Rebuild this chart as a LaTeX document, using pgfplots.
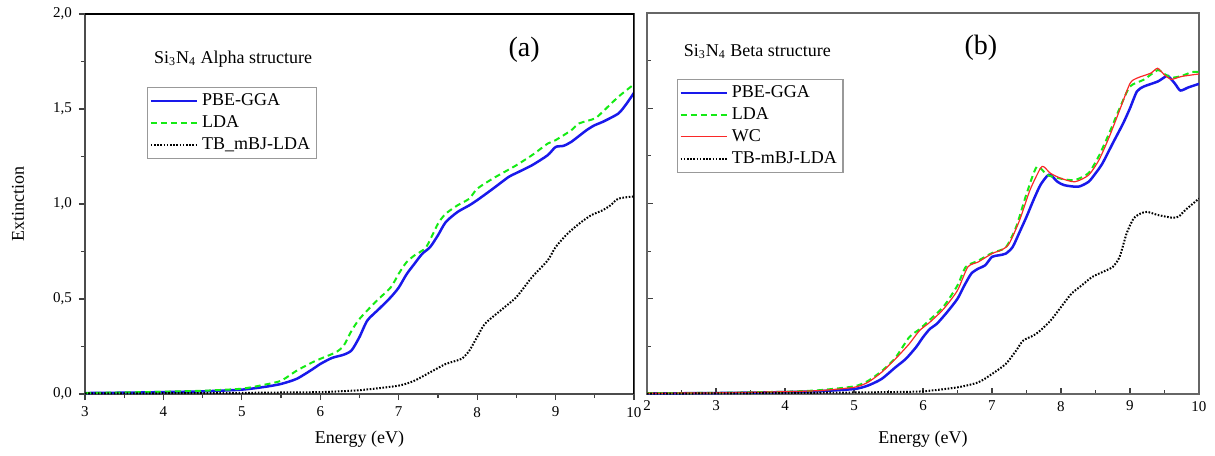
\documentclass[border=0pt]{standalone}
\usepackage{pgfplots}
\pgfplotsset{compat=1.18}
\usepackage{fontspec}
\setmainfont{Liberation Serif}
\definecolor{cblue}{RGB}{25,25,235}
\definecolor{cgreen}{RGB}{20,235,20}
\definecolor{cred}{RGB}{250,40,40}
\pgfplotsset{
  every axis/.append style={
    scale only axis,
    xmin=0,ymin=0,ymax=2,
    tick align=outside,
    xtick pos=bottom, ytick pos=left,
    minor x tick num=1, minor y tick num=1,
    major tick length=3pt, minor tick length=2pt,
    every tick/.style={black!75, line width=0.6pt},
    tick label style={font=\fontsize{7.5}{8}\selectfont},
    label style={font=\fontsize{9}{10}\selectfont},
    /pgf/number format/assume math mode=true,
    legend style={font=\fontsize{9}{11}\selectfont, draw=black!40, line width=0.6pt, inner sep=1pt, row sep=-0.5pt, legend cell align=left, anchor=north west},
    legend image code/.code={\draw[#1] (0pt,0pt) -- (23pt,0pt);},
    xlabel style={at={(axis description cs:0.5,-0.118)}, anchor=center},
  },
  pbe/.style={cblue, line width=1.25pt, smooth, tension=0.4},
  lda/.style={cgreen, line width=1pt, dash pattern=on 3pt off 2pt, smooth, tension=0.4},
  wc/.style={cred, line width=0.6pt, smooth, tension=0.4},
  tb/.style={black, line width=1pt, dash pattern=on 0.8pt off 0.8pt, smooth, tension=0.4},
}
\begin{document}
\begin{tikzpicture}[x=1pt,y=1pt]
\useasboundingbox (0,0) rectangle (607.5pt,227.5pt);
% ---------------- panel (a)
\begin{axis}[at={(42.5pt,30.5pt)}, anchor=south west,
  width=274.5pt, height=190pt,
  xmin=3, xmax=10,
  xtick={3,4,5,6,7,8,9,10},
  ytick={0,0.5,1,1.5,2},
  yticklabel style={/pgf/number format/.cd, fixed, fixed zerofill, precision=1, use comma},
  xlabel={Energy (eV)}, ylabel={Extinction},
  ylabel style={at={(axis description cs:-0.122,0.5)}, anchor=center, rotate=0},
  axis line style={black!70, line width=0.9pt},
  legend style={at={(axis description cs:0.113,0.808)}},
]
\addplot[pbe] coordinates {
(3,0.005)(3.5,0.007)(4,0.01)(4.5,0.014)(5,0.023)(5.3,0.038)(5.5,0.053)(5.7,0.08)(5.9,0.13)(6.0,0.158)(6.15,0.19)(6.3,0.207)(6.4,0.23)(6.5,0.30)(6.6,0.387)(6.75,0.448)(6.9,0.51)(7.0,0.56)(7.1,0.63)(7.2,0.685)(7.3,0.738)(7.4,0.773)(7.5,0.835)(7.6,0.905)(7.75,0.958)(7.9,0.993)(8.0,1.02)(8.2,1.08)(8.4,1.142)(8.5,1.163)(8.7,1.204)(8.9,1.257)(9.0,1.30)(9.1,1.306)(9.2,1.327)(9.4,1.39)(9.5,1.415)(9.6,1.432)(9.8,1.476)(9.9,1.525)(10,1.585)
};
\addlegendentry{PBE-GGA}
\addplot[lda] coordinates {
(3,0.005)(3.5,0.008)(4,0.012)(4.5,0.017)(5,0.028)(5.3,0.05)(5.5,0.07)(5.7,0.123)(5.9,0.167)(6.0,0.185)(6.2,0.22)(6.3,0.255)(6.4,0.334)(6.5,0.395)(6.7,0.483)(6.9,0.562)(7.0,0.633)(7.1,0.694)(7.2,0.729)(7.35,0.773)(7.5,0.896)(7.6,0.949)(7.75,0.993)(7.9,1.028)(8.0,1.08)(8.2,1.134)(8.35,1.169)(8.5,1.204)(8.7,1.257)(8.9,1.318)(9.0,1.336)(9.2,1.388)(9.3,1.424)(9.5,1.45)(9.6,1.485)(9.8,1.564)(10,1.63)
};
\addlegendentry{LDA}
\addplot[tb] coordinates {
(3,0.003)(4,0.004)(5,0.006)(5.5,0.008)(6.0,0.01)(6.5,0.02)(7.0,0.044)(7.2,0.07)(7.4,0.114)(7.6,0.158)(7.8,0.185)(7.9,0.228)(8.0,0.30)(8.1,0.37)(8.3,0.44)(8.5,0.51)(8.7,0.615)(8.9,0.703)(9.0,0.773)(9.15,0.843)(9.3,0.896)(9.45,0.94)(9.6,0.967)(9.7,0.993)(9.8,1.028)(10,1.04)
};
\addlegendentry{TB\_mBJ-LDA}
\draw[black, line width=1.3pt] (rel axis cs:0,1) -- (rel axis cs:1,1) -- (rel axis cs:1,0);
\node[anchor=west, font=\fontsize{9}{10}\selectfont] at (rel axis cs:0.113,0.88) {Si\textsubscript{3}N\textsubscript{4} Alpha structure};
\node[font=\fontsize{14}{16}\selectfont] at (rel axis cs:0.80,0.905) {(a)};
\end{axis}
% ---------------- panel (b)
\begin{axis}[at={(323.5pt,30.5pt)}, anchor=south west,
  width=276pt, height=190.5pt,
  xmin=2, xmax=10,
  xtick={2,3,4,5,6,7,8,9,10},
  ytick={0,0.5,1,1.5,2}, yticklabels={},
  tick align=inside,
  xlabel={Energy (eV)},
  axis line style={black!60, line width=0.9pt},
  legend style={at={(axis description cs:0.054,0.827)}},
]
\addplot[pbe] coordinates {
(2,0.003)(3,0.005)(4,0.01)(4.5,0.015)(5.0,0.026)(5.2,0.044)(5.4,0.079)(5.6,0.14)(5.75,0.184)(5.9,0.246)(6.0,0.298)(6.1,0.342)(6.2,0.368)(6.35,0.43)(6.5,0.5)(6.6,0.57)(6.7,0.632)(6.8,0.658)(6.9,0.675)(7.0,0.72)(7.1,0.728)(7.2,0.737)(7.3,0.772)(7.4,0.85)(7.5,0.93)(7.6,1.017)(7.7,1.096)(7.8,1.145)(7.85,1.15)(7.95,1.114)(8.05,1.096)(8.25,1.088)(8.4,1.114)(8.5,1.158)(8.6,1.21)(8.75,1.316)(8.9,1.42)(9.0,1.5)(9.1,1.588)(9.2,1.614)(9.4,1.64)(9.5,1.663)(9.55,1.67)(9.65,1.63)(9.73,1.593)(9.85,1.61)(10,1.628)
};
\addlegendentry{PBE-GGA}
\addplot[lda] coordinates {
(2,0.004)(3,0.006)(4,0.012)(4.5,0.02)(5.0,0.04)(5.2,0.068)(5.4,0.12)(5.6,0.19)(5.8,0.298)(5.95,0.34)(6.1,0.39)(6.3,0.46)(6.5,0.57)(6.62,0.667)(6.8,0.70)(7.0,0.74)(7.2,0.77)(7.35,0.877)(7.5,1.05)(7.65,1.193)(7.8,1.15)(8.0,1.13)(8.2,1.123)(8.4,1.16)(8.55,1.25)(8.7,1.37)(8.85,1.5)(9.0,1.614)(9.2,1.65)(9.4,1.70)(9.5,1.68)(9.6,1.66)(9.75,1.67)(9.9,1.69)(10,1.69)
};
\addlegendentry{LDA}
\addplot[wc] coordinates {
(2,0.004)(3,0.006)(4,0.012)(4.5,0.018)(5.0,0.035)(5.2,0.061)(5.4,0.114)(5.6,0.184)(5.8,0.263)(5.95,0.333)(6.1,0.377)(6.3,0.447)(6.5,0.544)(6.65,0.667)(6.8,0.693)(7.0,0.737)(7.15,0.758)(7.25,0.79)(7.4,0.912)(7.55,1.07)(7.7,1.184)(7.75,1.193)(7.85,1.158)(8.0,1.132)(8.2,1.114)(8.4,1.149)(8.55,1.228)(8.7,1.35)(8.85,1.49)(9.0,1.63)(9.1,1.658)(9.3,1.684)(9.4,1.71)(9.5,1.675)(9.6,1.652)(9.75,1.667)(10,1.68)
};
\addlegendentry{WC}
\addplot[tb] coordinates {
(2,0.002)(3,0.003)(4,0.005)(5,0.008)(5.5,0.01)(6.0,0.014)(6.5,0.035)(6.8,0.061)(7.0,0.105)(7.2,0.158)(7.35,0.228)(7.45,0.28)(7.6,0.307)(7.7,0.333)(7.85,0.386)(8.0,0.456)(8.15,0.526)(8.3,0.57)(8.45,0.614)(8.6,0.64)(8.75,0.667)(8.85,0.72)(8.95,0.842)(9.05,0.92)(9.15,0.947)(9.25,0.956)(9.4,0.94)(9.6,0.926)(9.7,0.93)(9.8,0.965)(10,1.026)
};
\addlegendentry{TB-mBJ-LDA}
\node[anchor=west, font=\fontsize{9}{10}\selectfont] at (rel axis cs:0.054,0.898) {Si\textsubscript{3}N\textsubscript{4} Beta structure};
\node[font=\fontsize{14}{16}\selectfont] at (rel axis cs:0.605,0.91) {(b)};
\end{axis}
\end{tikzpicture}
\end{document}
